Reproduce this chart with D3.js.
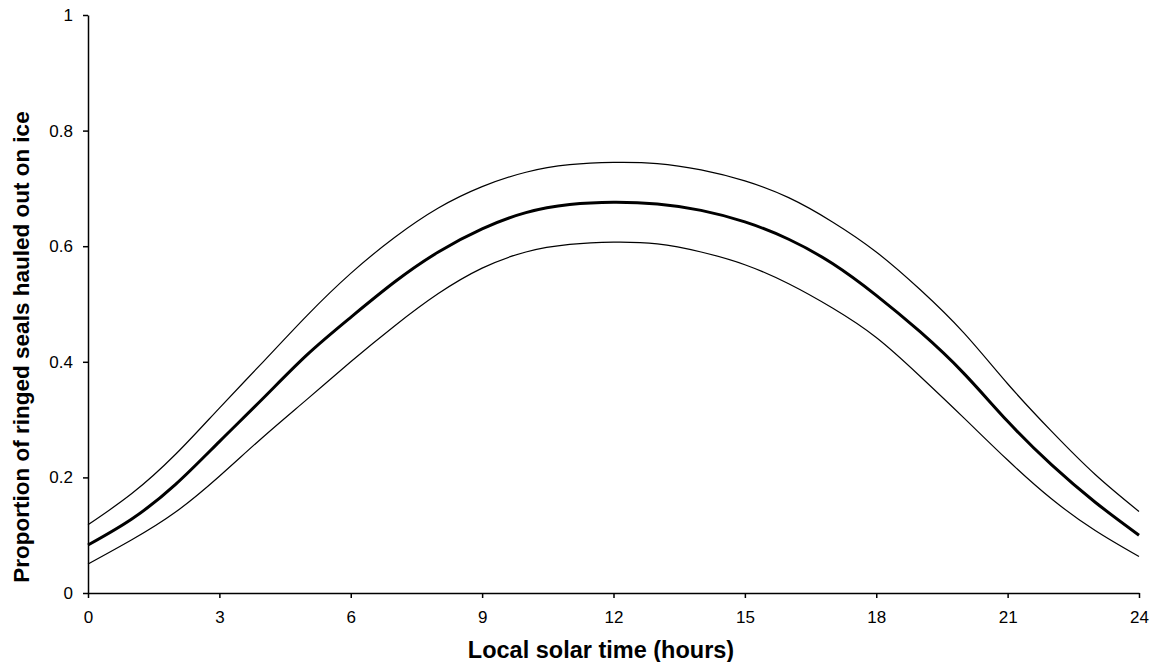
<!DOCTYPE html>
<html>
<head>
<meta charset="utf-8">
<script src="https://cdn.jsdelivr.net/npm/d3@7"></script>
<style>
  body { margin: 0; background: #fff; }
  text { font-family: "Liberation Sans", Arial, sans-serif; fill: #000; }
</style>
</head>
<body>
<svg id="chart"></svg>
<script>
// hours of the day
const hours = [0,1,2,3,4,5,6,7,8,9,10,11,12,13,14,15,16,17,18,19,20,21,22,23,24];
// fitted proportion hauled out (thick line)
const meanValues = [0.083,0.128,0.188,0.262,0.337,0.412,0.477,0.538,0.590,0.630,0.658,0.672,0.676,0.673,0.662,0.642,0.612,0.570,0.515,0.452,0.380,0.297,0.222,0.157,0.100];
// upper and lower confidence bounds (thin lines)
const upperValues = [0.118,0.172,0.240,0.320,0.400,0.480,0.553,0.615,0.666,0.703,0.728,0.741,0.745,0.743,0.732,0.713,0.684,0.642,0.590,0.525,0.450,0.362,0.280,0.205,0.141];
const lowerValues = [0.050,0.092,0.140,0.202,0.270,0.335,0.400,0.462,0.518,0.562,0.590,0.603,0.607,0.604,0.590,0.568,0.535,0.493,0.442,0.375,0.303,0.230,0.163,0.108,0.063];

const xTicks = [0,3,6,9,12,15,18,21,24];
const yTicks = [0,0.2,0.4,0.6,0.8,1];

const width = 1152, height = 662;
const margin = {top: 15, right: 13, bottom: 69, left: 88};

const svg = d3.select("#chart")
    .attr("width", width)
    .attr("height", height);

const x = d3.scaleLinear().domain([0, 24]).range([margin.left, width - margin.right]);
const y = d3.scaleLinear().domain([0, 1]).range([height - margin.bottom, margin.top]);

// axes
const xAxis = svg.append("g")
    .attr("transform", `translate(0,${height - margin.bottom})`)
    .call(d3.axisBottom(x).tickValues(xTicks).tickSize(5).tickSizeOuter(0).tickPadding(13));
const yAxis = svg.append("g")
    .attr("transform", `translate(${margin.left},0)`)
    .call(d3.axisLeft(y).tickValues(yTicks).tickSize(5).tickSizeOuter(0).tickPadding(10)
        .tickFormat(d => d === 0 ? "0" : d === 1 ? "1" : d3.format(".1f")(d)));

[xAxis, yAxis].forEach(a => {
    a.select(".domain").attr("stroke", "#000").attr("stroke-width", 1.5);
    a.selectAll(".tick line").attr("stroke", "#000").attr("stroke-width", 1.5);
    a.selectAll(".tick text").attr("font-size", "17px").attr("font-family", "Liberation Sans, Arial, sans-serif");
});

// lines
const line = vals => d3.line()
    .x((d, i) => x(hours[i]))
    .y(d => y(d))
    .curve(d3.curveNatural)(vals);

svg.append("path").attr("d", line(upperValues))
    .attr("fill", "none").attr("stroke", "#000").attr("stroke-width", 1.2);
svg.append("path").attr("d", line(lowerValues))
    .attr("fill", "none").attr("stroke", "#000").attr("stroke-width", 1.2);
svg.append("path").attr("d", line(meanValues))
    .attr("fill", "none").attr("stroke", "#000").attr("stroke-width", 3);

// axis titles
svg.append("text")
    .attr("x", 601)
    .attr("y", 658)
    .attr("text-anchor", "middle")
    .attr("font-size", "23.5px")
    .attr("font-weight", "bold")
    .text("Local solar time (hours)");

svg.append("text")
    .attr("transform", `translate(29,347) rotate(-90)`)
    .attr("text-anchor", "middle")
    .attr("font-size", "22.5px")
    .attr("font-weight", "bold")
    .text("Proportion of ringed seals hauled out on ice");
</script>
</body>
</html>
